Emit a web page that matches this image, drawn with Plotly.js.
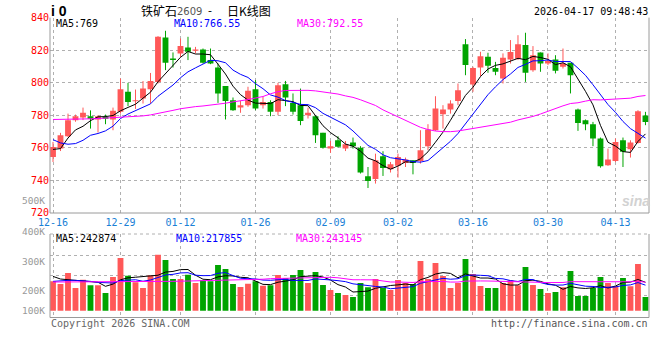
<!DOCTYPE html>
<html><head><meta charset="utf-8">
<script src="https://cdn.plot.ly/plotly-3.0.1.min.js"></script>
<style>html,body{margin:0;padding:0;background:#fff;}#chart{width:660px;height:360px;}</style>
</head><body><div id="chart"></div>
<script>
// ---------- data ----------
const dates = ['12-16','12-17','12-18','12-19','12-22','12-23','12-24','12-25','12-26','12-29','12-30','12-31',
 '01-05','01-06','01-07','01-08','01-09','01-12','01-13','01-14','01-15','01-16','01-19','01-20','01-21','01-22','01-23',
 '01-26','01-27','01-28','01-29','01-30','02-02','02-03','02-04','02-05','02-06','02-09','02-10','02-11','02-12','02-13',
 '02-24','02-25','02-26','02-27','03-02','03-03','03-04','03-05','03-06','03-09','03-10','03-11','03-12','03-13',
 '03-16','03-17','03-18','03-19','03-20','03-23','03-24','03-25','03-26','03-27','03-30','03-31','04-01','04-02','04-03',
 '04-07','04-08','04-09','04-10','04-13','04-14','04-15','04-16','04-17'];
const openP = [754.4,759.5,767.1,777.0,778.6,779.4,777.4,779.0,777.4,782.1,794.4,788.6,790.3,796.0,800.5,827.8,814.9,818.0,821.6,819.6,
 820.4,813.9,809.3,797.9,789.2,784.7,786.2,796.0,786.2,788.2,782.1,799.1,787.6,786.2,780.0,779.4,769.2,759.5,764.6,759.5,
 763.2,760.1,742.5,740.9,754.8,746.8,748.9,750.7,752.4,751.9,761.0,770.8,780.6,783.5,788.8,823.7,798.9,809.3,815.9,809.1,
 802.6,814.3,814.7,823.1,807.7,818.6,811.8,814.3,809.8,812.2,783.5,777.0,774.5,765.7,749.3,751.9,764.6,759.1,763.0,779.8];
const highP = [763.6,769.2,781.0,780.4,784.7,783.0,780.0,780.4,784.7,802.6,799.9,795.8,801.0,806.0,828.6,831.9,818.6,827.2,828.2,822.0,
 821.0,821.0,811.8,797.9,790.9,788.8,797.5,801.6,791.3,789.2,799.9,801.1,793.4,796.4,784.7,780.0,769.2,764.2,767.1,764.2,
 766.3,761.0,748.2,756.4,757.9,751.3,756.4,754.0,752.4,770.8,774.5,791.7,786.2,789.2,799.5,826.8,809.8,819.0,818.4,812.8,
 818.0,826.2,829.2,830.7,822.5,818.6,818.0,816.9,821.0,812.2,784.1,777.4,775.9,766.3,759.5,765.7,766.3,764.6,783.1,782.1];
const lowP = [751.3,758.0,766.7,776.0,777.0,771.8,769.4,774.5,770.8,781.0,785.6,783.9,787.2,787.2,799.5,807.7,809.3,815.9,813.9,818.0,
 811.8,811.4,787.6,777.4,782.7,781.5,785.2,783.1,784.1,779.4,780.0,785.6,780.4,773.9,778.0,763.0,759.5,756.9,760.1,758.0,
 759.5,744.2,735.3,738.0,742.7,744.8,741.7,748.2,743.7,750.3,758.5,770.4,771.8,781.0,786.2,804.6,794.4,804.0,806.1,804.6,
 799.5,811.8,813.9,800.5,806.7,806.7,810.8,805.7,808.7,793.4,770.4,770.8,761.0,747.8,748.9,751.3,748.2,754.0,762.6,773.9];
const closeP = [760.5,767.7,777.0,779.4,781.5,777.8,779.4,777.8,782.7,796.0,788.2,789.2,796.4,801.0,828.2,812.2,814.0,822.5,819.0,820.4,
 812.2,811.8,793.4,788.8,783.1,786.2,795.0,784.1,788.2,782.1,798.5,790.9,782.1,776.5,781.5,767.7,760.0,761.0,760.6,762.2,
 761.0,744.8,739.6,752.4,747.6,749.9,754.4,752.8,750.7,758.5,771.2,784.1,783.5,787.2,795.4,810.8,809.1,816.3,810.4,806.7,
 815.3,818.8,823.7,806.1,816.9,811.8,813.4,807.3,811.8,804.6,775.3,774.5,765.7,748.7,752.8,763.6,757.5,763.2,782.5,775.9];
const volume = [250600,227800,321800,193700,264900,216400,216400,150900,287600,450000,299000,242100,193700,301900,478500,432900,
 270600,270600,307600,236400,259200,250600,390200,356000,227800,202200,230700,250600,213600,216400,304700,279100,304700,347500,
 236400,330400,219300,176600,150900,133900,116800,236400,199400,270600,193700,176600,262000,236400,227800,424400,270600,407300,
 296200,193700,236400,441400,313300,210800,193700,193700,236400,259200,216400,373100,219300,185100,150900,159500,199400,338900,
 125300,125300,193700,287600,236400,210800,279100,207900,398700,116800];
// moving-average values at the start of the window (earlier sessions not shown)
const ma5Head = [759,759.5,766,771];
const ma10Head = [765,763,762.2,762.6,764.6,767.7,768.8,770.4,773.3];
const ma30Head = [777.4,777.4,777.4,777.4,777.6,777.8,778,778.2,778.4,778.6,778.8,779.1,779.6,780.2,781,782,783,784,784.8,785.3,
 785.7,786.2,786.8,787.4,788.2,788.8,789.6,790.6,791.5];
const vma5Head = [293000,270600,265000,259000];
const vma10Head = [250600,256300,259200,259200,256300,250600,242000,236400,236400];
const vma30Head = [245000,245000,245000,245000,245000,245000,245000,245000,246000,246000,247000,247000,248000,248000,249000,
 250000,251000,252000,253000,254000,255000,256000,258000,261000,264000,266000,267000,268000,269000];
const priceTicks = [720,740,760,780,800,820,840];
const dateTicks = ['12-16','12-29','01-12','01-26','02-09','03-02','03-16','03-30','04-13'];
const volLabels = ['500K','400K','300K','200K','100K'];
const headerMA = ['MA5:769','MA10:766.55','MA30:792.55'];
const headerVol = ['MA5:242874','MA10:217855','MA30:243145'];
const titleParts = ['铁矿石','2609','-','日K线图'];
const stamp = '2026-04-17 09:48:43';
const symbolText = 'i 0';

// ---------- helpers ----------
const W = 660, H = 360;
const px = x => x / W, py = y => 1 - y / H;
const RED = '#ff5858', GREEN = '#00a400', GRID = '#b0b0b0', BORDER = '#9a9a9a', MONO = 'DejaVu Sans Mono';
const idx = dates.map((d, i) => i);
function movingAvg(vals, n, head) {
  return vals.map((v, i) => {
    if (i < head.length) return head[i];
    let s = 0; for (let k = i - n + 1; k <= i; k++) s += vals[k];
    return s / n;
  });
}
const up = idx.map(i => closeP[i] >= openP[i]);
function wicks(sel) {
  const x = [], y = [];
  idx.forEach(i => { if (up[i] === sel) { x.push(i, i, null); y.push(lowP[i], highP[i], null); } });
  return {x, y};
}
const wu = wicks(true), wd = wicks(false);
const colors = idx.map(i => up[i] ? RED : GREEN);

const traces = [
  {type:'scatter', mode:'lines', x:wu.x, y:wu.y, line:{color:RED, width:1}, xaxis:'x', yaxis:'y', hoverinfo:'skip'},
  {type:'scatter', mode:'lines', x:wd.x, y:wd.y, line:{color:GREEN, width:1}, xaxis:'x', yaxis:'y', hoverinfo:'skip'},
  {type:'bar', x:idx, base:idx.map(i => Math.min(openP[i], closeP[i])), y:idx.map(i => Math.abs(closeP[i] - openP[i])),
   width:0.78, marker:{color:colors, line:{width:0}}, xaxis:'x', yaxis:'y', hoverinfo:'skip'},
  {type:'scatter', mode:'lines', x:idx, y:movingAvg(closeP, 5, ma5Head), line:{color:'#000000', width:1}, xaxis:'x', yaxis:'y'},
  {type:'scatter', mode:'lines', x:idx, y:movingAvg(closeP, 10, ma10Head), line:{color:'#0000ff', width:1}, xaxis:'x', yaxis:'y'},
  {type:'scatter', mode:'lines', x:idx, y:movingAvg(closeP, 30, ma30Head), line:{color:'#ff00ff', width:1}, xaxis:'x', yaxis:'y'},
  {type:'bar', x:idx, y:volume, width:0.78, marker:{color:colors, line:{width:0}}, xaxis:'x2', yaxis:'y2', hoverinfo:'skip'},
  {type:'scatter', mode:'lines', x:idx, y:movingAvg(volume, 5, vma5Head), line:{color:'#000000', width:1}, xaxis:'x2', yaxis:'y2'},
  {type:'scatter', mode:'lines', x:idx, y:movingAvg(volume, 10, vma10Head), line:{color:'#0000ff', width:1}, xaxis:'x2', yaxis:'y2'},
  {type:'scatter', mode:'lines', x:idx, y:movingAvg(volume, 30, vma30Head), line:{color:'#ff00ff', width:1}, xaxis:'x2', yaxis:'y2'}
];

const tickIdx = dateTicks.map(d => dates.indexOf(d));
const xr = [-0.4, idx.length - 0.53];
const layout = {
  width:W, height:H, margin:{l:0, r:0, t:0, b:0}, paper_bgcolor:'#fff', plot_bgcolor:'#fff',
  showlegend:false, hovermode:false, barmode:'overlay',
  xaxis:{domain:[px(50), px(649)], range:xr, anchor:'y', tickvals:tickIdx, ticktext:dateTicks, ticks:'',
    ticklabelstandoff:2,
    showgrid:true, gridcolor:GRID, griddash:'dot', gridwidth:1, zeroline:false, showline:false,
    tickfont:{family:MONO, size:10, color:'#1a80d6'}},
  yaxis:{domain:[py(212.9), py(17.6)], range:[720, 840], anchor:'x', tickvals:priceTicks, ticks:'',
    showgrid:true, gridcolor:GRID, griddash:'dot', zeroline:false, showline:false,
    tickfont:{family:MONO, size:10, color:'#ff0000'}},
  xaxis2:{domain:[px(50), px(649)], range:xr, anchor:'y2', tickvals:tickIdx, showticklabels:false, ticks:'',
    showgrid:true, gridcolor:GRID, griddash:'dot', zeroline:false, showline:false},
  yaxis2:{domain:[py(317.5), py(234)], range:[-58100, 655200], anchor:'x2', tickvals:[132400, 303300, 473300],
    showticklabels:false, ticks:'', showgrid:true, gridcolor:GRID, griddash:'dot', zeroline:false, showline:false},
  shapes:[
    {type:'line', xref:'paper', yref:'paper', x0:px(50), x1:px(50), y0:py(17.6), y1:py(213), line:{color:BORDER, width:1}},
    {type:'line', xref:'paper', yref:'paper', x0:px(649), x1:px(649), y0:py(17.6), y1:py(213), line:{color:BORDER, width:1}},
    {type:'line', xref:'paper', yref:'paper', x0:px(50), x1:px(649), y0:py(213), y1:py(213), line:{color:BORDER, width:1}},
    {type:'line', xref:'paper', yref:'paper', x0:px(50), x1:px(50), y0:py(234), y1:py(317.5), line:{color:BORDER, width:1}},
    {type:'line', xref:'paper', yref:'paper', x0:px(649), x1:px(649), y0:py(234), y1:py(317.5), line:{color:BORDER, width:1}},
    {type:'line', xref:'paper', yref:'paper', x0:px(50), x1:px(649), y0:py(317.5), y1:py(317.5), line:{color:BORDER, width:1}},
    {type:'line', xref:'paper', yref:'paper', x0:px(50), x1:px(649), y0:py(234), y1:py(234), line:{color:GRID, width:1, dash:'dot'}}
  ],
  annotations:[]
};
function ann(text, x, y, anchor, font) {
  layout.annotations.push({text, xref:'paper', yref:'paper', x:px(x), y:py(y), xanchor:anchor, yanchor:'middle',
    showarrow:false, font, borderpad:0});
}
ann('<b>' + symbolText + '</b>', 50, 10.5, 'left', {family:'Liberation Sans', size:14, color:'#000'});
ann(titleParts[0], 140, 10, 'left', {family:'Noto Sans CJK SC', size:12, color:'#000'});
ann(titleParts[1], 176, 11, 'left', {family:'DejaVu Sans', size:10, color:'#555'});
ann(titleParts[2], 207, 10.5, 'left', {family:'DejaVu Sans', size:11, color:'#000'});
ann(titleParts[3], 226, 10, 'left', {family:'Noto Sans CJK SC', size:12, color:'#000'});
ann(stamp, 649, 11, 'right', {family:MONO, size:10, color:'#000'});
ann(headerMA[0], 55, 24, 'left', {family:MONO, size:10, color:'#000'});
ann(headerMA[1], 173, 24, 'left', {family:MONO, size:10, color:'#0000ff'});
ann(headerMA[2], 296, 24, 'left', {family:MONO, size:10, color:'#ff00ff'});
ann(headerVol[0], 55, 238.5, 'left', {family:MONO, size:10, color:'#000'});
ann(headerVol[1], 175, 238.5, 'left', {family:MONO, size:10, color:'#0000ff'});
ann(headerVol[2], 295, 238.5, 'left', {family:MONO, size:10, color:'#ff00ff'});
const volLabelY = [200.7, 231.5, 261, 290, 310];
volLabels.forEach((t, k) => ann(t, 46, volLabelY[k], 'right', {family:MONO, size:9.5, color:'#999'}));
ann('Copyright 2026 SINA.COM', 50, 323.5, 'left', {family:MONO, size:10, color:'#666'});
ann('http://finance.sina.com.cn', 649, 323.5, 'right', {family:MONO, size:10, color:'#555'});
ann('<b><i>sina</i></b>', 636, 201, 'center', {family:'Liberation Sans', size:14, color:'#d2d2d2'});

Plotly.newPlot('chart', traces, layout, {staticPlot:true, displayModeBar:false});
</script></body></html>
